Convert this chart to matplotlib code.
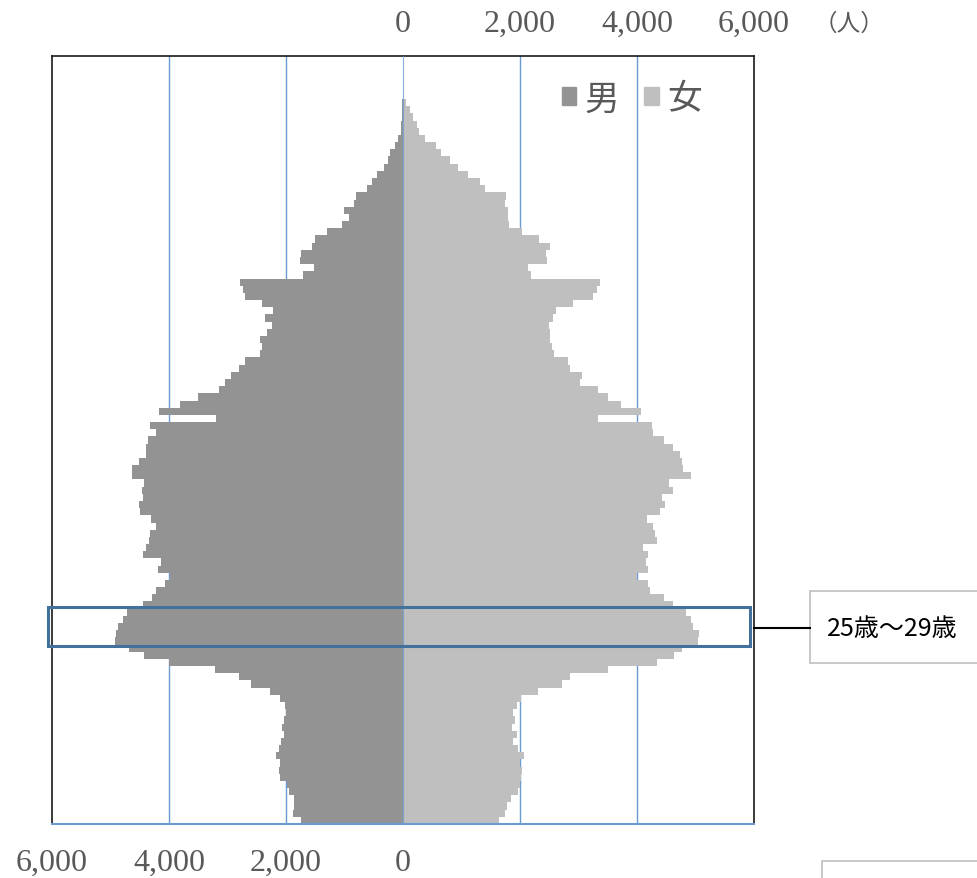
import numpy as np
import matplotlib
matplotlib.use("Agg")
import matplotlib.pyplot as plt
from matplotlib.patches import Rectangle, Patch
from matplotlib.lines import Line2D

plt.rcParams['font.family'] = ['Noto Sans CJK JP', 'DejaVu Sans']

# population by single year of age (0 .. 100+)
ages = np.arange(0, 101)
male = [1738, 1888, 1856, 1871, 1952, 1991, 2109, 2124, 2109, 2170,
        2124, 2085, 2040, 2070, 2040, 2006, 2020, 2109, 2282, 2604,
        2803, 3213, 4000, 4431, 4680, 4920, 4905, 4880, 4790, 4723,
        4449, 4295, 4221, 4067, 3982, 4182, 4141, 4438, 4392, 4341,
        4324, 4221, 4307, 4495, 4512, 4438, 4455, 4421, 4626, 4626,
        4506, 4392, 4392, 4352, 4227, 4330, 3195, 4166, 3813, 3500,
        3148, 3038, 2936, 2803, 2694, 2443, 2412, 2443, 2333, 2232,
        2365, 2224, 2412, 2701, 2740, 2780, 1707, 1527, 1762, 1746,
        1550, 1511, 1292, 1041, 916, 1002, 838, 799, 610, 532,
        446, 329, 258, 219, 133, 94, 40, 40, 20, 15,
        10]
female = [1644, 1738, 1785, 1840, 1958, 1997, 2020, 2036, 1997, 2075,
          1958, 1879, 1950, 1864, 1918, 1879, 1950, 2020, 2310, 2725,
          2858, 3500, 4346, 4640, 4761, 5047, 5059, 4961, 4922, 4836,
          4609, 4460, 4221, 4187, 4000, 4189, 4150, 4189, 4111, 4346,
          4307, 4267, 4166, 4385, 4479, 4424, 4620, 4541, 4917, 4792,
          4776, 4737, 4620, 4463, 4267, 4252, 3328, 4072, 3719, 3500,
          3328, 3030, 3054, 2858, 2819, 2584, 2545, 2521, 2506, 2490,
          2568, 2623, 2913, 3249, 3312, 3367, 2192, 2130, 2466, 2451,
          2506, 2333, 2036, 1816, 1800, 1800, 1746, 1762, 1409, 1308,
          1112, 940, 806, 642, 564, 376, 282, 235, 172, 117,
          55]

bottom_ticks = [-6000, -4000, -2000, 0]
bottom_labels = ["6,000", "4,000", "2,000", "0"]
top_ticks = [0, 2000, 4000, 6000]
top_labels = ["0", "2,000", "4,000", "6,000"]
legend_labels = ["男", "女"]
highlight = "25歳～29歳"

male_color = "#939393"
female_color = "#BFBFBF"
grid_color = "#6A9BD1"
num_font = "Liberation Serif"

fig = plt.figure(figsize=(9.77, 8.79), dpi=100)
ax = fig.add_axes([52 / 977, 54 / 879, 702 / 977, 768 / 879])

ax.barh(ages, -np.array(male), height=1.0, color=male_color, zorder=2)
ax.barh(ages, female, height=1.0, color=female_color, zorder=2)

for g in [-4000, -2000, 2000, 4000]:
    ax.axvline(g, color=grid_color, lw=1.0, zorder=1)
ax.axvline(0, color=grid_color, lw=0.8, zorder=3, alpha=0.8)

ax.set_xlim(-6000, 6000)
ax.set_ylim(-0.5, 106.5)
ax.set_yticks([])

ax.set_xticks(bottom_ticks)
ax.set_xticklabels(bottom_labels, family=num_font, fontsize=23, color="#595959")
ax.tick_params(axis='x', length=0, pad=17)

sec = ax.secondary_xaxis('top')
sec.set_xticks(top_ticks)
sec.set_xticklabels(top_labels, family=num_font, fontsize=23, color="#595959")
sec.tick_params(length=0, pad=13)
sec.spines['top'].set_visible(False)

for s in ['left', 'top', 'right']:
    ax.spines[s].set_color("#1a1a1a")
    ax.spines[s].set_linewidth(1.2)
ax.spines['bottom'].set_color(grid_color)
ax.spines['bottom'].set_linewidth(1.5)

fig.text(849 / 977, 1 - 24 / 879, "（人）", fontsize=17, color="#595959",
         ha='center', va='center')

handles = [Patch(color=male_color), Patch(color=female_color)]
leg = ax.legend(handles, legend_labels, loc='center', bbox_to_anchor=(0.826, 0.944),
                ncol=2, frameon=False, fontsize=25, handlelength=0.42, handleheight=0.42,
                handletextpad=0.25, columnspacing=0.7)
for t in leg.get_texts():
    t.set_color("#595959")

# highlight box for ages 25-29
ax.add_patch(Rectangle((-6070, 24.3), 12000, 5.4, fill=False, edgecolor="#41719C",
                       lw=2.2, zorder=5, clip_on=False))

# callout
fig.add_artist(Line2D([754 / 977, 810 / 977], [1 - 629 / 879, 1 - 629 / 879],
                      color="black", lw=1.5))
fig.add_artist(Rectangle((810 / 977, 1 - 664 / 879), 0.3, 72 / 879, transform=fig.transFigure,
                         facecolor="white", edgecolor="#BFBFBF", lw=1.2))
fig.text(827 / 977, 1 - 629 / 879, highlight, fontsize=18, color="black",
         ha='left', va='center')
fig.add_artist(Rectangle((822 / 977, -0.05), 0.3, 0.05 + 17 / 879, transform=fig.transFigure,
                         facecolor="white", edgecolor="#BFBFBF", lw=1.2))

fig.savefig("out.png", dpi=100)
